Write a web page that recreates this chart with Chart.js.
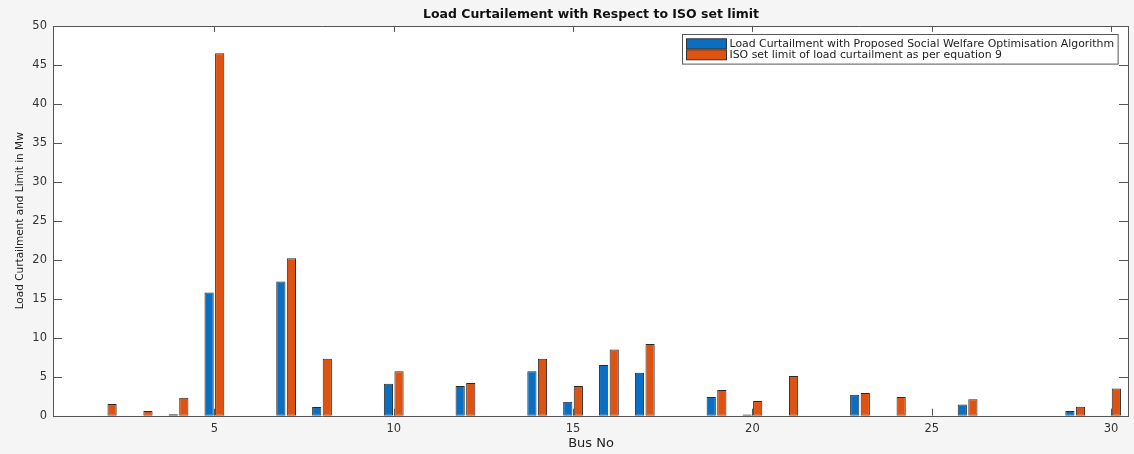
<!DOCTYPE html>
<html>
<head>
<meta charset="utf-8">
<script src="https://cdn.jsdelivr.net/npm/chart.js@4.4.1/dist/chart.umd.min.js"></script>
<style>
  html, body { margin: 0; padding: 0; background: #f5f5f5; }
  #wrap { width: 1134px; height: 454px; position: relative; }
</style>
</head>
<body>
<div id="wrap"><canvas id="c" width="1134" height="454"></canvas></div>
<script>
// ---- data ----
const busNumbers = [1,2,3,4,5,6,7,8,9,10,11,12,13,14,15,16,17,18,19,20,21,22,23,24,25,26,27,28,29,30];
const curtailmentProposed = [0,0,0,0.2,15.8,0,17.2,1.1,0,4.1,0,3.8,0,5.7,1.8,6.5,5.5,0,2.4,0.15,0,0,2.7,0,0,1.45,0,0,0.6,0];
const isoSetLimit = [0,1.5,0.6,2.3,46.5,0,20.2,7.3,0,5.7,0,4.2,0,7.3,3.8,8.5,9.2,0,3.3,1.9,5.1,0,2.9,2.4,0,2.1,0,0,1.15,3.5];
const xTickLabels = [5,10,15,20,25,30];
const yTickValues = [0,5,10,15,20,25,30,35,40,45,50];
const seriesNames = [
  'Load Curtailment with Proposed Social Welfare Optimisation Algorithm',
  'ISO set limit of load curtailment as per equation 9'
];
const chartTitle = 'Load Curtailement with Respect to ISO set limit';
const xAxisTitle = 'Bus No';
const yAxisTitle = 'Load Curtailment and Limit in Mw';

const FONT = '"DejaVu Sans", "Liberation Sans", Arial, sans-serif';
const BLUE = '#0a6fc2';
const ORANGE = '#de5312';

const bgPlugin = {
  id: 'bg',
  beforeDraw(chart) {
    const {ctx, chartArea: a} = chart;
    ctx.save();
    ctx.fillStyle = '#f5f5f5';
    ctx.fillRect(0, 0, chart.width, chart.height);
    ctx.fillStyle = '#ffffff';
    ctx.fillRect(a.left, a.top, a.right - a.left, a.bottom - a.top);
    ctx.restore();
  }
};

const boxPlugin = {
  id: 'axbox',
  afterDraw(chart) {
    const {ctx, chartArea: a, scales} = chart;
    const xs = scales.x, ys = scales.y;
    ctx.save();
    ctx.strokeStyle = '#555';
    ctx.lineWidth = 1;
    ctx.beginPath();
    ctx.rect(Math.round(a.left) + 0.5, Math.round(a.top) + 0.5,
             Math.round(a.right - a.left) - 1, Math.round(a.bottom - a.top));
    ctx.stroke();
    ctx.beginPath();
    busNumbers.forEach((b, i) => {
      if (xTickLabels.includes(b)) {
        const px = Math.round(xs.getPixelForValue(i)) + 0.5;
        ctx.moveTo(px, a.bottom); ctx.lineTo(px, a.bottom - 7);
        ctx.moveTo(px, a.top); ctx.lineTo(px, a.top + 6);
      }
    });
    yTickValues.forEach(v => {
      const py = Math.round(ys.getPixelForValue(v)) + 0.5;
      ctx.moveTo(a.left, py); ctx.lineTo(a.left + 9, py);
      ctx.moveTo(a.right, py); ctx.lineTo(a.right - 10, py);
    });
    ctx.stroke();
    ctx.restore();
  }
};

const legendPlugin = {
  id: 'boxLegend',
  afterDraw(chart) {
    const {ctx, chartArea: a} = chart;
    const ds = chart.data.datasets;
    ctx.save();
    ctx.font = '10.9px ' + FONT;
    const tw = Math.max(...ds.map(d => ctx.measureText(d.label).width));
    const sw = 40, sh = 10, padL = 4, gap = 3, padR = 4, rowH = 11, padT = 3.8;
    const w = padL + sw + gap + tw + padR;
    const h = padT * 2 + rowH * ds.length;
    const x = Math.round(a.right - 11 - w) + 0.5;
    const y = Math.round(a.top + 8) + 0.5;
    ctx.fillStyle = '#ffffff';
    ctx.fillRect(x, y, w, h);
    ctx.strokeStyle = '#555';
    ctx.lineWidth = 1;
    ctx.strokeRect(x, y, w, h);
    ds.forEach((d, i) => {
      const cy = y + padT + rowH * i + rowH / 2;
      ctx.fillStyle = d.backgroundColor;
      ctx.fillRect(x + padL, cy - sh / 2, sw, sh);
      ctx.strokeStyle = '#333';
      ctx.strokeRect(x + padL, cy - sh / 2, sw, sh);
      ctx.fillStyle = '#222';
      ctx.textBaseline = 'middle';
      ctx.textAlign = 'left';
      ctx.fillText(d.label, x + padL + sw + gap, cy + 0.5);
    });
    ctx.restore();
  }
};

new Chart(document.getElementById('c'), {
  type: 'bar',
  data: {
    labels: busNumbers,
    datasets: [
      { label: seriesNames[0], data: curtailmentProposed, backgroundColor: BLUE,
        borderColor: '#2a2a2a', borderWidth: 1, borderSkipped: false },
      { label: seriesNames[1], data: isoSetLimit, backgroundColor: ORANGE,
        borderColor: '#2a2a2a', borderWidth: 1, borderSkipped: false }
    ]
  },
  options: {
    responsive: false,
    animation: false,
    devicePixelRatio: 1,
    datasets: { bar: { categoryPercentage: 0.59, barPercentage: 0.87 } },
    layout: { padding: { left: 0, right: 5, top: 0, bottom: 0 } },
    plugins: {
      legend: { display: false },
      tooltip: { enabled: false },
      title: {
        display: true, text: chartTitle, color: '#111',
        fullSize: false,
        font: { family: FONT, size: 12.5, weight: 'bold' },
        padding: { top: 7.5, bottom: 3.4 }
      }
    },
    scales: {
      x: {
        type: 'category',
        offset: true,
        grid: { display: false, drawTicks: false },
        border: { display: false },
        ticks: {
          autoSkip: false, maxRotation: 0, minRotation: 0,
          padding: 6, color: '#333',
          font: { family: FONT, size: 11.5 },
          callback: (v, i) => xTickLabels.includes(busNumbers[i]) ? String(busNumbers[i]) : ''
        },
        title: {
          display: true, text: xAxisTitle, color: '#222',
          font: { family: FONT, size: 13 },
          padding: { top: 0, bottom: 2.5 }
        },
        afterFit: s => { s.height = 38.3; }
      },
      y: {
        min: 0, max: 50,
        afterBuildTicks: s => { s.ticks = yTickValues.map(v => ({ value: v })); },
        grid: { display: false, drawTicks: false },
        border: { display: false },
        ticks: { padding: 6, color: '#333', font: { family: FONT, size: 11.5 } },
        title: {
          display: true, text: yAxisTitle, color: '#222',
          font: { family: FONT, size: 10.5 },
          padding: { top: 13.7, bottom: 0 }
        },
        afterFit: s => { s.width = 53; }
      }
    }
  },
  plugins: [bgPlugin, boxPlugin, legendPlugin]
});
</script>
</body>
</html>
